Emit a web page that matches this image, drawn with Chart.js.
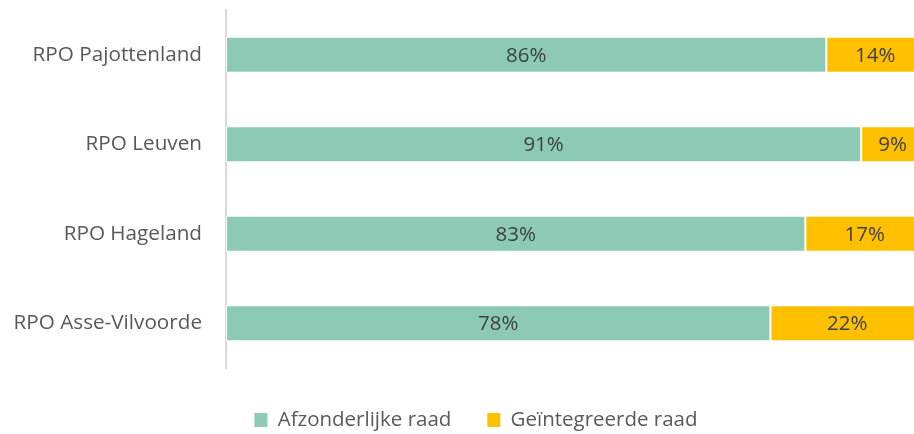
<!DOCTYPE html>
<html>
<head>
<meta charset="utf-8">
<script src="https://cdn.jsdelivr.net/npm/chart.js@4/dist/chart.umd.min.js"></script>
<style>
  html, body { margin: 0; padding: 0; background: #fff; }
  /* the original plot runs a little past the right edge, so the canvas is wider than the view */
  #wrap { width: 914px; height: 434px; overflow: hidden; }
</style>
</head>
<body>
<div id="wrap"><canvas id="chart" width="924" height="434"></canvas></div>
<script>
// data
const categories = ['RPO Pajottenland', 'RPO Leuven', 'RPO Hageland', 'RPO Asse-Vilvoorde']
const afzonderlijk = [86, 91, 83, 78]
const geintegreerd = [14, 9, 17, 22]
const seriesNames = ['Afzonderlijke raad', 'Geïntegreerde raad']

const FONT = "'Open Sans', 'Noto Sans', sans-serif"
const LEGEND_FONT = 20.5
const LEGEND_PAD = 36

// labels in the middle of every segment
const barLabels = {
  id: 'barLabels',
  afterDatasetsDraw(chart) {
    const ctx = chart.ctx
    ctx.save()
    ctx.font = '20.5px ' + FONT
    ctx.fillStyle = '#404040'
    ctx.textAlign = 'center'
    ctx.textBaseline = 'middle'
    chart.data.datasets.forEach((ds, i) => {
      chart.getDatasetMeta(i).data.forEach((bar, j) => {
        const x = (bar.x + bar.base) / 2
        ctx.fillText(ds.data[j] + '%', x, bar.y + 1)
      })
    })
    ctx.restore()
  }
}

// fixed legend height so the plot ends where the original does,
// then move the legend row to where it sits in the original
const legendPlace = {
  id: 'legendPlace',
  beforeInit(chart) {
    const fit = chart.legend.fit
    chart.legend.fit = function () {
      fit.call(this)
      this.height = 66
    }
  },
  afterLayout(chart) {
    const lg = chart.legend
    lg.top = 420 - LEGEND_PAD - LEGEND_FONT / 2
    lg.bottom = lg.top + 66
    lg.left += 14
    lg.right += 14
  }
}

new Chart(document.getElementById('chart'), {
  type: 'bar',
  data: {
    labels: categories,
    datasets: [
      {
        label: seriesNames[0],
        data: afzonderlijk,
        backgroundColor: '#8CCAB6',
        borderColor: '#ffffff',
        borderWidth: 1,
        borderSkipped: false
      },
      {
        label: seriesNames[1],
        data: geintegreerd,
        backgroundColor: '#FFC000',
        borderColor: '#ffffff',
        borderWidth: 1,
        borderSkipped: false
      }
    ]
  },
  options: {
    indexAxis: 'y',
    responsive: false,
    animation: false,
    layout: { padding: { top: 10, right: 0, left: 0, bottom: 0 } },
    datasets: { bar: { barPercentage: 0.405, categoryPercentage: 1 } },
    plugins: {
      tooltip: { enabled: false },
      legend: {
        position: 'bottom',
        labels: {
          boxWidth: 13,
          boxHeight: 14,
          padding: LEGEND_PAD,
          color: '#595959',
          font: { family: FONT, size: LEGEND_FONT },
          generateLabels(chart) {
            const items = Chart.defaults.plugins.legend.labels.generateLabels(chart)
            items.forEach(it => {
              it.lineWidth = 0
              it.strokeStyle = it.fillStyle
            })
            return items
          }
        }
      }
    },
    scales: {
      x: {
        stacked: true,
        min: 0,
        max: 100,
        display: false
      },
      y: {
        stacked: true,
        grid: { display: false },
        border: { display: true, color: '#d9d9d9', width: 2 },
        ticks: {
          color: '#595959',
          padding: 16,
          font: { family: FONT, size: 20.7 }
        },
        afterFit(scale) {
          scale.width = 226
          scale.paddingTop = 0
          scale.paddingBottom = 0
        }
      }
    }
  },
  plugins: [barLabels, legendPlace]
})
</script>
</body>
</html>
